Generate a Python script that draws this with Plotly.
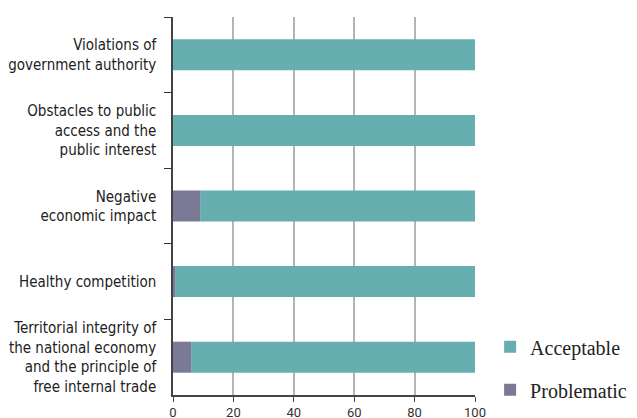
import plotly.graph_objects as go

categories = [
    "Violations of<br>government authority",
    "Obstacles to public<br>access and the<br>public interest",
    "Negative<br>economic impact",
    "Healthy competition",
    "Territorial integrity of<br>the national economy<br>and the principle of<br>free internal trade",
]
problematic = [0, 0, 9, 0.7, 6]
acceptable = [100 - p for p in problematic]
x_ticks = [0, 20, 40, 60, 80, 100]

fig = go.Figure()
fig.add_trace(go.Bar(y=categories, x=acceptable, base=problematic, orientation="h", name="Acceptable",
                     marker=dict(color="#67AEB0", line=dict(width=0)), legendgroup="a"))
fig.add_trace(go.Bar(y=categories, x=problematic, orientation="h", name="Problematic",
                     marker=dict(color="#7B7A96", line=dict(width=0)), legendgroup="p"))

fig.update_layout(
    barmode="overlay",
    bargap=0.59,
    width=637, height=418,
    margin=dict(l=165, r=170, t=9, b=31),
    plot_bgcolor="white", paper_bgcolor="white",
    font=dict(family="DejaVu Sans Condensed, Liberation Sans Narrow, Roboto, sans-serif", color="#222"),
    legend=dict(x=1.05, y=-0.038, xanchor="left", yanchor="bottom",
                traceorder="grouped", tracegroupgap=14,
                font=dict(family="Liberation Serif, DejaVu Serif, serif", size=20, color="#222"),
                itemwidth=30),
    xaxis=dict(range=[0, 100], tickvals=x_ticks, showgrid=True, gridcolor="#b4b4b4", gridwidth=1.5,
               zeroline=False, showline=True, linecolor="#444", linewidth=1.5, automargin=False,
               ticks="outside", ticklen=5, tickcolor="#444",
               tickfont=dict(family="Roboto, sans-serif", size=13, color="#333")),
    yaxis=dict(autorange="reversed", tickson="boundaries", ticks="outside", ticklen=7,
               tickcolor="#333", showline=True, linecolor="#444", linewidth=1.5, automargin=False,
               ticklabelstandoff=12,
               showgrid=False, tickfont=dict(size=15, color="#222")),
)
fig.write_html("out.html")
